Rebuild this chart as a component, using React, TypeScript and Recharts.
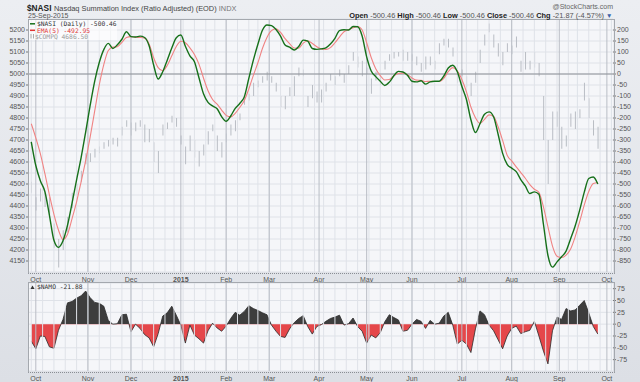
import React from 'react';
import { Area, Bar, CartesianGrid, ComposedChart, Line, ReferenceLine, XAxis, YAxis } from 'recharts';

// one sample every second trading day, day index 1, 3, 5 ... 251 (0 = 26-Sep-2014)
const nasi = [
  -308, -416, -485, -534, -641, -756, -788, -758, -687, -587,
  -481, -380, -264, -142, -32, 52, 111, 139, 116, 133,
  158, 192, 170, 168, 172, 166, 128, 41, -23, 10,
  63, 118, 165, 177, 126, 82, 56, -17, -90, -129,
  -145, -158, -194, -215, -191, -156, -134, -104, -20, 63,
  135, 199, 223, 220, 202, 172, 132, 122, 109, 125,
  154, 149, 116, 112, 114, 119, 136, 162, 197, 201,
  200, 216, 215, 173, 78, 14, -12, -33, -52, -37,
  -8, 12, 9, -6, -33, -36, -31, -46, -36, -33,
  -33, -10, 27, 40, 10, -56, -115, -208, -266, -226,
  -183, -172, -194, -274, -361, -411, -428, -444, -480, -509,
  -543, -536, -547, -683, -825, -878, -854, -831, -805, -749,
  -691, -619, -538, -475, -468, -500,
];

const ema = [
  -226, -290, -362, -452, -549, -638, -709, -752, -728, -657,
  -581, -490, -394, -286, -168, -50, 43, 107, 122, 124,
  144, 166, 170, 167, 166, 163, 137, 74, 29, 15,
  39, 83, 125, 149, 142, 119, 89, 45, -18, -76,
  -116, -137, -164, -188, -195, -179, -152, -120, -68, -6,
  51, 116, 166, 197, 206, 189, 161, 138, 118, 117,
  140, 151, 139, 124, 114, 112, 120, 142, 168, 192,
  201, 210, 216, 200, 142, 75, 24, -7, -27, -25,
  -8, 2, 4, -3, -18, -28, -29, -34, -33, -34,
  -34, -20, 11, 29, 14, -25, -80, -150, -199, -225,
  -206, -186, -193, -240, -302, -369, -395, -422, -448, -474,
  -503, -524, -538, -604, -695, -782, -828, -834, -823, -795,
  -740, -671, -596, -534, -498, -493,
];

const compqHigh = [
  4510, 4440, 4480, 4460, 4440, 4320, 4250, 4290, 4350, 4460,
  4500, 4560, 4640, 4640, 4660, 4670, 4690, 4700, 4710, 4710,
  4760, 4790, 4780, 4780, 4790, 4770, 4750, 4690, 4650, 4770,
  4780, 4810, 4800, 4720, 4670, 4720, 4700, 4650, 4680, 4740,
  4770, 4720, 4690, 4730, 4770, 4790, 4820, 4900, 4910, 4960,
  4970, 4990, 5010, 4990, 4960, 4900, 4900, 4940, 4990, 5030,
  5020, 4900, 4950, 4920, 4930, 4960, 5000, 4990, 5020, 5000,
  5040, 5100, 5080, 5060, 5030, 4980, 5010, 4990, 5060, 5090,
  5100, 5100, 5110, 5100, 5090, 5080, 5050, 5080, 5080, 5060,
  5140, 5160, 5160, 5120, 5000, 5020, 4990, 4960, 5010, 5110,
  5180, 5230, 5180, 5140, 5100, 5140, 5130, 5170, 5060, 5100,
  5060, 5100, 5050, 4900, 4700, 4830, 4830, 4760, 4720, 4820,
  4830, 4840, 4960, 4890, 4790, 4760,
];

const compqLow = [
  4460, 4380, 4420, 4395, 4360, 4210, 4120, 4200, 4280, 4390,
  4450, 4510, 4590, 4600, 4620, 4640, 4660, 4670, 4680, 4670,
  4720, 4760, 4720, 4740, 4760, 4690, 4690, 4600, 4550, 4720,
  4750, 4780, 4760, 4680, 4590, 4650, 4620, 4580, 4630, 4680,
  4740, 4650, 4620, 4690, 4720, 4740, 4790, 4860, 4880, 4900,
  4940, 4960, 4970, 4960, 4920, 4850, 4840, 4900, 4900, 4990,
  4990, 4850, 4890, 4870, 4870, 4920, 4970, 4950, 4990, 4960,
  5000, 5060, 5030, 4990, 5000, 4910, 4970, 4950, 5020, 5060,
  5070, 5080, 5060, 5060, 5060, 5040, 5010, 5020, 5040, 5020,
  5090, 5130, 5120, 5080, 4960, 4990, 4940, 4900, 4960, 5050,
  5130, 5190, 5120, 5080, 5040, 5100, 5090, 5120, 5010, 5020,
  5020, 5030, 4990, 4700, 4500, 4700, 4760, 4660, 4670, 4760,
  4750, 4800, 4880, 4800, 4720, 4660,
];

const namo = [
  -36, -52, -25, -26, -48, -51, -13, 10, 45, 48,
  55, 60, 70, 56, 46, 44, 38, 8, 0, 1,
  20, 21, -16, 0, -9, -22, -29, -48, -20, 17,
  24, 38, 19, -2, -40, -2, -23, -31, -40, -14,
  2, -8, -15, -4, 12, 25, 19, 27, 39, 33,
  29, 24, 20, -2, -15, -26, -28, -10, 3, 12,
  18, -5, -21, -5, -1, 6, 12, 15, 19, -2,
  1, 13, -5, -15, -40, -23, -29, -18, 5, 20,
  14, 9, -15, -13, 0, 10, 6, -9, 8, 0,
  2, 17, 25, -2, -42, -34, -42, -60, -10, 28,
  20, -2, -14, -33, -52, -25, -9, -4, -20, -16,
  -13, 6, -25, -57, -84, -14, 15, 10, 33, 28,
  30, 40, 50, 24, -5, -21,
];

// trading-day index of the first session of each month / each week
const monthStarts = [3, 26, 45, 67, 87, 106, 128, 149, 169, 191, 213, 234, 255];
const monthLabels = ['Oct', 'Nov', 'Dec', '2015', 'Feb', 'Mar', 'Apr', 'May', 'Jun', 'Jul', 'Aug', 'Sep', 'Oct'];
const weekStarts = [
  1, 6, 11, 16, 21, 26, 31, 36, 41, 45, 50, 55, 60, 64, 68, 73, 78, 82, 87, 92,
  97, 101, 106, 111, 116, 121, 126, 130, 135, 140, 145, 150, 155, 160, 165, 169,
  174, 179, 184, 189, 193, 198, 203, 208, 213, 218, 223, 228, 233, 238, 242, 247, 252, 257,
];

const priceTicks = [5200, 5150, 5100, 5050, 5000, 4950, 4900, 4850, 4800, 4750, 4700, 4650, 4600, 4550, 4500, 4450, 4400, 4350, 4300, 4250, 4200, 4150];
const nasiTicks = [200, 150, 100, 50, 0, -50, -100, -150, -200, -250, -300, -350, -400, -450, -500, -550, -600, -650, -700, -750, -800, -850];
const namoTicks = [75, 50, 25, 0, -25, -50, -75];

const FONT = '"Liberation Sans", Arial, sans-serif';
const MONO = '"DejaVu Sans Mono", "Liberation Mono", monospace';

const rows = nasi.map((v, i) => ({
  day: 1 + 2 * i,
  nasi: v,
  ema: ema[i],
  compq: [compqLow[i], compqHigh[i]],
  namo: namo[i],
}));

const namoMax = Math.max(...namo);
const namoMin = Math.min(...namo);
const splitAt = namoMax / (namoMax - namoMin);

const MonthTick = ({ x, y, payload }: any) => {
  const label = monthLabels[monthStarts.indexOf(payload.value)];
  return (
    <text x={x} y={y + 1.5} textAnchor="middle" fontSize={7} fontFamily={FONT} fill="#555"
      fontWeight={label === '2015' ? 'bold' : 'normal'}>
      {label}
    </text>
  );
};

const axisTick = { fontSize: 7, fill: '#555', fontFamily: FONT };

const gridLines = (yId: string) => [
  ...weekStarts.map(d => (
    <ReferenceLine key={'w' + d} x={d} yAxisId={yId} stroke="#dfe2e8" strokeWidth={1} ifOverflow="hidden" />
  )),
  ...monthStarts.map(d => (
    <ReferenceLine key={'m' + d} x={d} yAxisId={yId} stroke="#b9bdc5" strokeWidth={1} ifOverflow="hidden" />
  )),
];

const xDomain = [0, 257.7];

export default function App() {
  return (
    <div style={{ position: 'relative', width: 640, height: 382, overflow: 'hidden',
      background: 'linear-gradient(#eceef2, #dcdfe5)', fontFamily: FONT }}>
      <style>{'body{margin:0}'}</style>

      <div style={{ position: 'absolute', left: 0, top: 0 }}>
        <ComposedChart width={640} height={283} data={rows} margin={{ top: 19, right: 0, bottom: 0, left: 0 }}>
          <CartesianGrid yAxisId="price" vertical={false} stroke="#dfe2e8" fill="#f5f6f9" />
          <XAxis dataKey="day" type="number" domain={xDomain} ticks={monthStarts} allowDataOverflow
            height={11} axisLine={false} tickLine={false} tick={<MonthTick />} interval={0} />
          <YAxis yAxisId="price" domain={[4100, 5250]} ticks={priceTicks} allowDataOverflow width={29}
            axisLine={false} tickSize={3} tickMargin={1} tickLine={{ stroke: '#777' }} tick={axisTick} interval={0} />
          <YAxis yAxisId="nasi" orientation="right" domain={[-900, 250]} ticks={nasiTicks} allowDataOverflow width={27}
            axisLine={false} tickSize={3} tickMargin={1} tickLine={{ stroke: '#777' }} tick={axisTick} interval={0} />
          {gridLines('price')}
          <ReferenceLine y={5000} yAxisId="price" stroke="#8c9096" strokeWidth={1} />
          <Bar yAxisId="price" dataKey="compq" fill="#b9bdc4" barSize={1} isAnimationActive={false} />
          <Line yAxisId="nasi" dataKey="ema" type="monotone" stroke="#f08383" strokeWidth={1.1} dot={false} isAnimationActive={false} />
          <Line yAxisId="nasi" dataKey="nasi" type="monotone" stroke="#16701a" strokeWidth={1.4} dot={false} isAnimationActive={false} />
        </ComposedChart>
      </div>

      <div style={{ position: 'absolute', left: 0, top: 283 }}>
        <ComposedChart width={640} height={99} data={rows} margin={{ top: 0, right: 0, bottom: 0, left: 29 }}>
          <defs>
            <linearGradient id="namoSplit" x1="0" y1="0" x2="0" y2="1">
              <stop offset={splitAt} stopColor="#3d3d3d" />
              <stop offset={splitAt} stopColor="#e5474a" />
            </linearGradient>
          </defs>
          <CartesianGrid yAxisId="namo" vertical={false} stroke="#dfe2e8" fill="#f5f6f9" />
          <XAxis dataKey="day" type="number" domain={xDomain} ticks={monthStarts} allowDataOverflow
            height={11} axisLine={false} tickLine={false} tick={<MonthTick />} interval={0} />
          <YAxis yAxisId="namo" orientation="right" domain={[-99, 87]} ticks={namoTicks} allowDataOverflow width={27}
            axisLine={false} tickSize={3} tickMargin={1} tickLine={{ stroke: '#777' }} tick={axisTick} interval={0} />
          {gridLines('namo')}
          <Area yAxisId="namo" dataKey="namo" type="linear" baseValue={0} stroke="#2b2b2b" strokeWidth={0.8}
            fill="url(#namoSplit)" fillOpacity={1} isAnimationActive={false} />
        </ComposedChart>
      </div>

      {/* panel frames */}
      <div style={{ position: 'absolute', left: 28, top: 19, width: 585, height: 253,
        borderTop: '1px solid #a4a8ae', borderLeft: '1px solid #a4a8ae', borderRight: '1px solid #a4a8ae', borderBottom: '1px dotted #8a8e94' }} />
      <div style={{ position: 'absolute', left: 28, top: 282, width: 585, height: 89,
        borderTop: '1px solid #a4a8ae', borderLeft: '1px solid #a4a8ae', borderRight: '1px solid #a4a8ae', borderBottom: '1px dotted #8a8e94' }} />

      <svg width={640} height={382} style={{ position: 'absolute', left: 0, top: 0, pointerEvents: 'none' }}>
        <text x={27} y={10.5} fontSize={8.3} fontWeight="bold" fill="#222" fontFamily={FONT}>$NASI</text>
        <text x={54} y={10.5} fontSize={7.4} fill="#444" fontFamily={FONT}>
          Nasdaq Summation Index (Ratio Adjusted) (EOD) <tspan fill="#777">INDX</tspan>
        </text>
        <text x={28} y={18} fontSize={7} fill="#555" fontFamily={FONT}>25-Sep-2015</text>
        <text x={613} y={9} textAnchor="end" fontSize={7} fill="#666" fontFamily={FONT}>@StockCharts.com</text>
        <text x={604} y={18} textAnchor="end" fontSize={7.4} fontFamily={FONT} fill="#555">
          <tspan fontWeight="bold" fill="#222">Open</tspan> -500.46 <tspan fontWeight="bold" fill="#222">High</tspan> -500.46{' '}
          <tspan fontWeight="bold" fill="#222">Low</tspan> -500.46 <tspan fontWeight="bold" fill="#222">Close</tspan> -500.46{' '}
          <tspan fontWeight="bold" fill="#222">Chg</tspan> -21.87 (-4.57%)
        </text>
        <text x={606} y={18} fontSize={6.5} fill="#3a62a8" fontFamily={FONT}>▼</text>

        <rect x={29} y={20} width={88} height={20} fill="#ffffff" fillOpacity={0.6} />
        <line x1={30} y1={23.8} x2={35} y2={23.8} stroke="#16701a" strokeWidth={1.5} />
        <text x={37} y={26} fontSize={6.3} fill="#333" fontFamily={MONO}>$NASI (Daily) -500.46</text>
        <line x1={30} y1={30.3} x2={35} y2={30.3} stroke="#e03535" strokeWidth={1.5} />
        <text x={37} y={32.5} fontSize={6.3} fill="#e03535" fontFamily={MONO}>EMA(5) -492.95</text>
        <line x1={31} y1={34} x2={31} y2={38.5} stroke="#999" strokeWidth={0.8} />
        <line x1={33.5} y1={34} x2={33.5} y2={38.5} stroke="#999" strokeWidth={0.8} />
        <text x={35} y={38.8} fontSize={6.3} fill="#999" fontFamily={MONO}>$COMPQ 4686.50</text>

        <path d="M30.5 289 L32.5 285.5 L34.5 289 Z" fill="#333" />
        <text x={37} y={289.3} fontSize={6.3} fill="#333" fontFamily={MONO}>$NAMO -21.88</text>
      </svg>
    </div>
  );
}
